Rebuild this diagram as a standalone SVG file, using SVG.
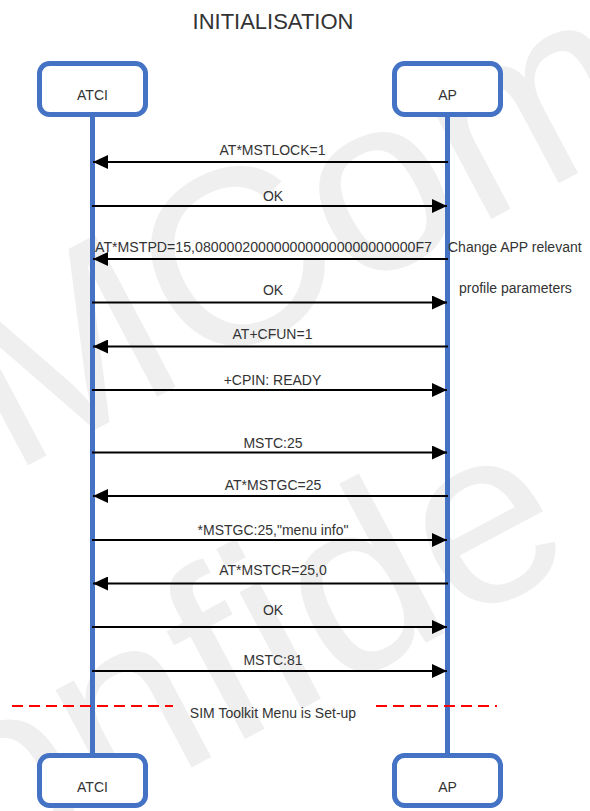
<svg xmlns="http://www.w3.org/2000/svg" width="590" height="811" viewBox="0 0 590 811">
<style>
  .wm { font-family: "Liberation Sans", Arial, sans-serif; font-size: 250px; fill: #efefef; }
  .t { font-family: "Liberation Sans", Arial, sans-serif; font-size: 14px; fill: #333333; }
  .title { font-family: "Liberation Sans", Arial, sans-serif; font-size: 22px; fill: #333333; }
  .box { fill: #ffffff; stroke: #4472c4; stroke-width: 5; }
  .life { stroke: #4472c4; stroke-width: 5; }
  .msg { stroke: #000000; stroke-width: 2; fill: none; marker-end: url(#ah); }
  .sep { stroke: #ff0000; stroke-width: 2; stroke-dasharray: 11 6; }
</style>
<defs>
  <marker id="ah" markerWidth="15" markerHeight="14" refX="15" refY="7" orient="auto" markerUnits="userSpaceOnUse">
    <path d="M0,0 L15,7 L0,14 Z" fill="#000000"/>
  </marker>
</defs>
<rect x="0" y="0" width="590" height="811" fill="#ffffff"/>
<g id="watermark">
  <text class="wm" transform="translate(10,475) rotate(-28)">MCom</text>
  <text class="wm" transform="translate(-20,880) rotate(-28)">onfide</text>
</g>
<text class="title" x="273" y="29" text-anchor="middle">INITIALISATION</text>
<g id="lifelines">
  <line class="life" x1="92.5" y1="117" x2="92.5" y2="753"/>
  <line class="life" x1="447.5" y1="117" x2="447.5" y2="753"/>
</g>
<g id="atci-top">
  <rect class="box" x="39.5" y="63.5" width="106" height="51" rx="10"/>
  <text class="t" x="92.5" y="100" text-anchor="middle">ATCI</text>
</g>
<g id="ap-top">
  <rect class="box" x="394.5" y="63.5" width="106" height="51" rx="10"/>
  <text class="t" x="447.5" y="100" text-anchor="middle">AP</text>
</g>
<g id="atci-bottom">
  <rect class="box" x="39.5" y="755.5" width="106" height="50" rx="10"/>
  <text class="t" x="92.5" y="792" text-anchor="middle">ATCI</text>
</g>
<g id="ap-bottom">
  <rect class="box" x="394.5" y="755.5" width="106" height="50" rx="10"/>
  <text class="t" x="447.5" y="792" text-anchor="middle">AP</text>
</g>
<g id="connectors">
  <line class="msg" x1="448" y1="162" x2="93" y2="162"/>
  <line class="msg" x1="92" y1="206" x2="447" y2="206"/>
  <line class="msg" x1="448" y1="259" x2="93" y2="259"/>
  <line class="msg" x1="92" y1="302.5" x2="447" y2="302.5"/>
  <line class="msg" x1="448" y1="346.5" x2="93" y2="346.5"/>
  <line class="msg" x1="92" y1="390" x2="447" y2="390"/>
  <line class="msg" x1="92" y1="452.5" x2="447" y2="452.5"/>
  <line class="msg" x1="448" y1="496" x2="93" y2="496"/>
  <line class="msg" x1="92" y1="540" x2="447" y2="540"/>
  <line class="msg" x1="448" y1="583.5" x2="93" y2="583.5"/>
  <line class="msg" x1="92" y1="627" x2="447" y2="627"/>
  <line class="msg" x1="92" y1="671" x2="447" y2="671"/>
  <line class="sep" x1="12" y1="706" x2="173" y2="706"/>
  <line class="sep" x1="376" y1="706" x2="497" y2="706"/>
</g>
<g id="labels">
  <text class="t" x="272.5" y="155" text-anchor="middle">AT*MSTLOCK=1</text>
  <text class="t" x="273" y="201" text-anchor="middle">OK</text>
  <text class="t" x="95" y="252" textLength="337" lengthAdjust="spacingAndGlyphs">AT*MSTPD=15,0800002000000000000000000000F7</text>
  <text class="t" x="448" y="252">Change APP relevant</text>
  <text class="t" x="459" y="293">profile parameters</text>
  <text class="t" x="273" y="295" text-anchor="middle">OK</text>
  <text class="t" x="272.5" y="339" text-anchor="middle">AT+CFUN=1</text>
  <text class="t" x="272.5" y="385" text-anchor="middle">+CPIN: READY</text>
  <text class="t" x="273" y="448" text-anchor="middle">MSTC:25</text>
  <text class="t" x="273" y="490" text-anchor="middle">AT*MSTGC=25</text>
  <text class="t" x="273" y="535" text-anchor="middle">*MSTGC:25,"menu info"</text>
  <text class="t" x="273" y="575" text-anchor="middle">AT*MSTCR=25,0</text>
  <text class="t" x="273" y="615" text-anchor="middle">OK</text>
  <text class="t" x="273" y="665" text-anchor="middle">MSTC:81</text>
  <text class="t" x="273" y="718" text-anchor="middle">SIM Toolkit Menu is Set-up</text>
</g>
</svg>
